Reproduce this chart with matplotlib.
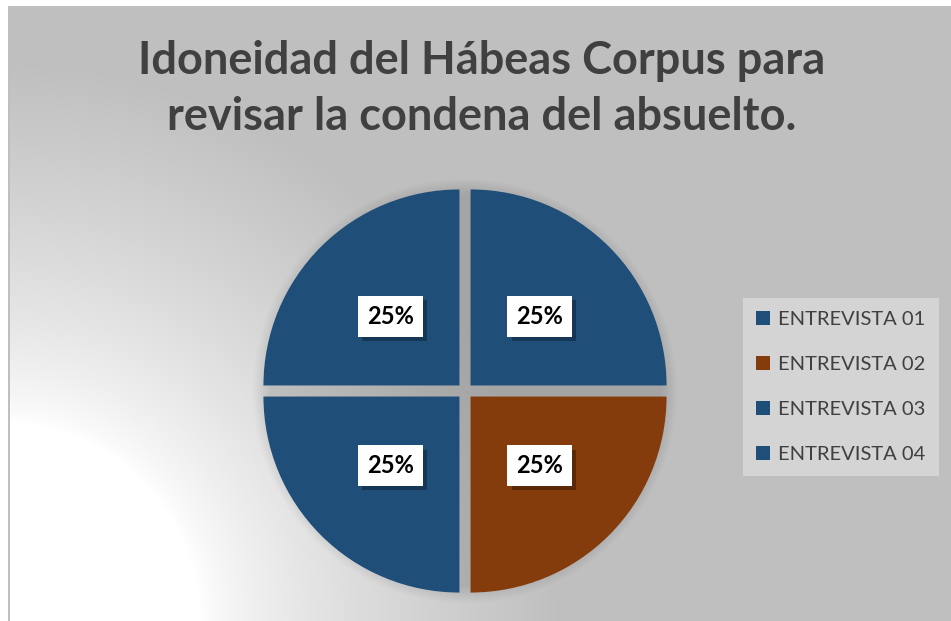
import numpy as np
import matplotlib
matplotlib.use('Agg')
import matplotlib.pyplot as plt
from matplotlib.patches import Patch, Rectangle
from matplotlib import patheffects

# data
categories = ['ENTREVISTA 01', 'ENTREVISTA 02', 'ENTREVISTA 03', 'ENTREVISTA 04']
values = [25, 25, 25, 25]
colors = ['#1f4e79', '#843c0c', '#1f4e79', '#1f4e79']
title = 'Idoneidad del Hábeas Corpus para\nrevisar la condena del absuelto.'

W, H = 951, 621
fig = plt.figure(figsize=(W / 100, H / 100), dpi=100)
fig.patch.set_facecolor('white')

# background: radial gradient, white at bottom-left to grey
bg = fig.add_axes([8 / W, 0, 1 - 8 / W, 1 - 6 / H])
yy, xx = np.mgrid[0:H - 6, 0:W - 8]
r = np.hypot(xx + 8, (H - 6) - yy)
t = np.clip((r - 200) / 360.0, 0, 1) ** 0.75
g = 1.0 - t * (1.0 - 0.75)
img = np.dstack([g, g, g])
bg.imshow(img, aspect='auto', extent=[0, 1, 0, 1], origin='upper')
bg.set_xlim(0, 1)
bg.set_ylim(0, 1)
bg.axis('off')
fig.add_artist(Rectangle((8 / W, 0), 1.5 / W, 1 - 6 / H, transform=fig.transFigure,
                         color='#bfbfbf', lw=0))

# title
fig.text(482 / W, 1 - 40 / H, title, ha='center', va='top', fontsize=32.5,
         fontweight='bold', family='Lato', color='#404040', linespacing=1.42)

# pie
cx, cy, R = 465, 391, 196
half = 220
ax = fig.add_axes([(cx - half) / W, (H - cy - half) / H, 2 * half / W, 2 * half / H])
lim = half / R

# soft shadow behind the pie
for k in range(10):
    ax.add_patch(plt.Circle((0.0, 0.0), 1.0 + 0.009 * k, color='black',
                            alpha=0.013, lw=0, zorder=0))

wedges, texts, autotexts = ax.pie(values, colors=colors, startangle=90, counterclock=False,
                                  explode=[0.04] * 4, autopct='%1.0f%%', pctdistance=0.5,
                                  wedgeprops=dict(linewidth=0), radius=1.0, frame=True)
ax.set_xlim(-lim, lim)
ax.set_ylim(-lim, lim)
ax.axis('off')
for w in wedges:
    w.set_zorder(2)

for at in autotexts:
    at.set_fontsize(17)
    at.set_fontweight('bold')
    at.set_family('Lato')
    at.set_color('black')
    at.set_zorder(5)
    at.set_bbox(dict(boxstyle='square,pad=0.38', fc='white', ec='none'))
    at.get_bbox_patch().set_path_effects([
        patheffects.SimplePatchShadow(offset=(3, -3), shadow_rgbFace='black', alpha=0.3),
        patheffects.Normal()])

# legend
handles = [Patch(facecolor=c, edgecolor='none') for c in colors]
leg = fig.legend(handles, categories, loc='center left', bbox_to_anchor=(743 / W, 1 - 387 / H),
                 frameon=True, fancybox=False, borderpad=0.65, borderaxespad=0,
                 labelspacing=1.38, handlelength=0.7, handleheight=0.7, handletextpad=0.4,
                 prop=dict(family='Lato', size=14.5))
leg.get_frame().set_facecolor('#d4d4d4')
leg.get_frame().set_edgecolor('none')
leg.get_frame().set_alpha(1)
for txt in leg.get_texts():
    txt.set_color('#404040')

fig.savefig('out.png', dpi=100)
